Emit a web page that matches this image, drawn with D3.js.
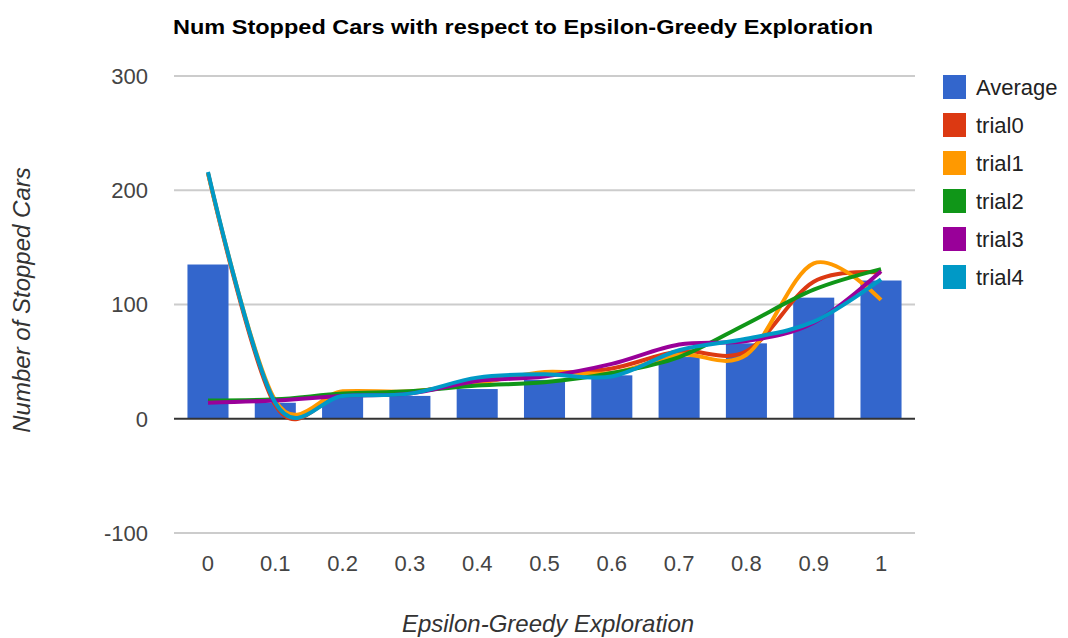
<meta charset="utf-8">
<style>body { margin: 0; } svg { display: block; }</style>
<script src="https://d3js.org/d3.v7.min.js"></script>
<svg id="chart" width="1068" height="638"></svg>
<script>
// data
var categories = ["0", "0.1", "0.2", "0.3", "0.4", "0.5", "0.6", "0.7", "0.8", "0.9", "1"];
var average = [135, 14, 19, 20, 26, 34, 38, 54, 66, 106, 121];
var trial0 = [215, 12, 22, 23, 33, 39, 44, 59, 59, 120, 128];
var trial1 = [215, 16, 24, 24, 31, 41, 40, 56, 56, 136, 104];
var trial2 = [16, 17, 22, 24, 29, 32, 40, 54, 83, 113, 131];
var trial3 = [14, 16, 20, 22, 33, 37, 48, 65, 68, 84, 129];
var trial4 = [216, 14, 20, 22, 36, 39, 37, 60, 70, 85, 122];
var yTicks = [-100, 0, 100, 200, 300];

var trials = [
    { name: "trial0", values: trial0, color: "#dc3912" },
    { name: "trial1", values: trial1, color: "#ff9900" },
    { name: "trial2", values: trial2, color: "#109618" },
    { name: "trial3", values: trial3, color: "#990099" },
    { name: "trial4", values: trial4, color: "#0099c6" }
]

var svg = d3.select("#chart")
var font = "Arial, 'Liberation Sans', sans-serif"

var x = d3.scaleBand()
    .domain(categories)
    .range([174, 915])
    .paddingInner(0.39)
    .paddingOuter(0.2)

var y = d3.scaleLinear()
    .domain([-100, 300])
    .range([533, 76])

// title
svg.append("text")
    .attr("x", 173).attr("y", 34)
    .attr("textLength", 700).attr("lengthAdjust", "spacingAndGlyphs")
    .style("font-family", font).style("font-size", "21px").style("font-weight", "bold")
    .text("Num Stopped Cars with respect to Epsilon-Greedy Exploration")

// gridlines
svg.append("g")
    .selectAll("line")
    .data(yTicks.filter(function (d) { return d != 0 }))
    .enter().append("line")
    .attr("x1", 174).attr("x2", 915)
    .attr("y1", function (d) { return y(d) }).attr("y2", function (d) { return y(d) })
    .style("stroke", "#cccccc").style("stroke-width", 2)

// y tick labels
svg.append("g")
    .selectAll("text")
    .data(yTicks)
    .enter().append("text")
    .attr("x", 148).attr("y", function (d) { return y(d) })
    .attr("dy", "0.36em")
    .attr("text-anchor", "end")
    .style("font-family", font).style("font-size", "22px").style("fill", "#444")
    .text(function (d) { return d })

// bars
svg.append("g")
    .selectAll("rect")
    .data(average)
    .enter().append("rect")
    .attr("x", function (d, i) { return x(categories[i]) })
    .attr("width", x.bandwidth())
    .attr("y", function (d) { return y(Math.max(d, 0)) })
    .attr("height", function (d) { return Math.abs(y(d) - y(0)) })
    .style("fill", "#3366cc")

// zero line
svg.append("line")
    .attr("x1", 174).attr("x2", 915)
    .attr("y1", y(0)).attr("y2", y(0))
    .style("stroke", "#333").style("stroke-width", 2)

// smoothed trial lines
var line = d3.line()
    .x(function (d, i) { return x(categories[i]) + x.bandwidth() / 2 })
    .y(function (d) { return y(d) })
    .curve(d3.curveCardinal.tension(0))

svg.append("g")
    .selectAll("path")
    .data(trials)
    .enter().append("path")
    .attr("d", function (d) { return line(d.values) })
    .style("fill", "none")
    .style("stroke", function (d) { return d.color })
    .style("stroke-width", 4)
    .style("stroke-linejoin", "round")

// x tick labels
svg.append("g")
    .selectAll("text")
    .data(categories)
    .enter().append("text")
    .attr("x", function (d) { return x(d) + x.bandwidth() / 2 })
    .attr("y", 571)
    .attr("text-anchor", "middle")
    .style("font-family", font).style("font-size", "22px").style("fill", "#444")
    .text(function (d) { return d })

// axis titles
svg.append("text")
    .attr("x", 548).attr("y", 632)
    .attr("text-anchor", "middle")
    .style("font-family", font).style("font-size", "24px").style("font-style", "italic").style("fill", "#333")
    .text("Epsilon-Greedy Exploration")

svg.append("text")
    .attr("transform", "translate(30,300) rotate(-90)")
    .attr("text-anchor", "middle")
    .style("font-family", font).style("font-size", "24px").style("font-style", "italic").style("fill", "#333")
    .text("Number of Stopped Cars")

// legend
var legendData = [{ name: "Average", color: "#3366cc" }].concat(trials)
var legend = svg.append("g")
    .selectAll("g")
    .data(legendData)
    .enter().append("g")
    .attr("transform", function (d, i) { return "translate(943," + (75 + i * 38) + ")" })

legend.append("rect")
    .attr("width", 23).attr("height", 24)
    .style("fill", function (d) { return d.color })

legend.append("text")
    .attr("x", 33).attr("y", 12).attr("dy", "0.36em")
    .style("font-family", font).style("font-size", "22px").style("fill", "#222")
    .text(function (d) { return d.name })
</script>
